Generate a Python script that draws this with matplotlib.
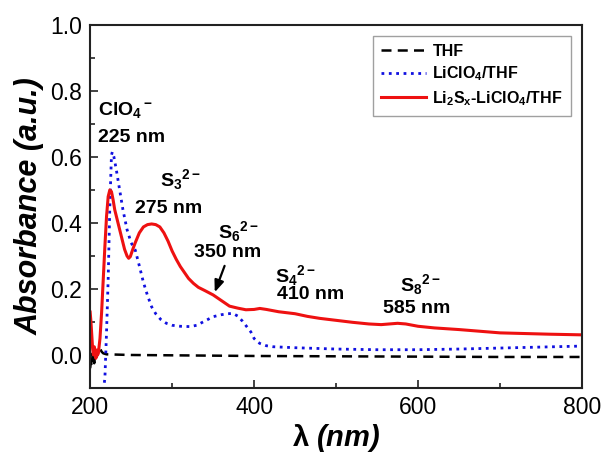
import matplotlib
matplotlib.use("Agg")
import matplotlib.pyplot as plt
from matplotlib.ticker import MultipleLocator

plt.rcParams['font.family'] = ['Liberation Sans', 'DejaVu Sans']
plt.rcParams['mathtext.fontset'] = 'custom'
plt.rcParams['mathtext.rm'] = 'Liberation Sans:bold'
plt.rcParams['mathtext.it'] = 'Liberation Sans:bold'
plt.rcParams['mathtext.bf'] = 'Liberation Sans:bold'
plt.rcParams['mathtext.default'] = 'rm'

# ---- data ----
thf_x = [200, 201, 202, 203, 204, 205, 206, 207, 208, 210, 212, 214, 216, 220, 250, 300, 400, 500, 600, 700, 800]
thf_y = [-0.04, -0.02, -0.035, 0.005, -0.01, -0.025, 0.0, 0.015, -0.005, 0.01, 0.02, 0.01, 0.005, 0.002,
         0.0, -0.001, -0.003, -0.004, -0.005, -0.006, -0.006]

li_x = [213, 215, 218, 220, 222, 224, 226, 227, 229, 232, 236, 240, 245, 250, 255, 260, 265, 270, 275, 280,
        286, 293, 300, 310, 322, 330, 340, 350, 360, 368, 374, 380, 386, 391, 396, 400, 404, 407, 415, 423,
        450, 500, 550, 600, 650, 700, 750, 800]
li_y = [-0.15, -0.13, -0.07, 0.07, 0.23, 0.45, 0.605, 0.615, 0.60, 0.56, 0.50, 0.44, 0.38, 0.34, 0.318,
        0.27, 0.22, 0.18, 0.146, 0.125, 0.108, 0.096, 0.09, 0.087, 0.086, 0.09, 0.103, 0.116, 0.122, 0.125,
        0.126, 0.118, 0.102, 0.086, 0.07, 0.05, 0.04, 0.035, 0.028, 0.025, 0.022, 0.018, 0.016, 0.016,
        0.018, 0.021, 0.024, 0.027]

lis_x = [200, 201, 202, 203, 204, 205, 206, 207, 208, 209, 210, 212, 214, 216, 218, 220, 222, 224, 226, 228,
         230, 233, 236, 239, 242, 245, 247, 249, 252, 255, 260, 265, 270, 275, 280, 285, 290, 295, 300, 305,
         310, 315, 320, 326, 332, 340, 350, 360, 370, 380, 390, 400, 407, 415, 430, 450, 465, 480, 500, 520,
         540, 555, 565, 575, 585, 600, 620, 650, 680, 700, 730, 760, 800]
lis_y = [0.13, 0.10, 0.06, 0.02, 0.0, 0.025, 0.01, -0.01, 0.015, 0.0, 0.005, 0.05, 0.13, 0.23, 0.33, 0.42,
         0.48, 0.50, 0.495, 0.47, 0.44, 0.41, 0.38, 0.35, 0.32, 0.30, 0.293, 0.298, 0.32, 0.34, 0.37, 0.388,
         0.395, 0.397, 0.395, 0.388, 0.37, 0.345, 0.315, 0.29, 0.268, 0.25, 0.232, 0.217, 0.205, 0.195,
         0.182, 0.165, 0.148, 0.142, 0.137, 0.138, 0.141, 0.138, 0.131, 0.125, 0.117, 0.111, 0.105, 0.099,
         0.094, 0.092, 0.094, 0.096, 0.094, 0.087, 0.082, 0.077, 0.071, 0.067, 0.065, 0.063, 0.061]

labels = ['THF', 'LiClO$_4$/THF', 'Li$_2$S$_x$-LiClO$_4$/THF']

fig = plt.figure(figsize=(6.05, 4.53), dpi=100)
ax = fig.add_axes([0.149, 0.1435, 0.813, 0.8015])

ax.plot(thf_x, thf_y, color='black', lw=1.8, linestyle=(0, (4, 2.5)), label=labels[0])
ax.plot(li_x, li_y, color='#1010e0', lw=2.0, linestyle=':', label=labels[1])
ax.plot(lis_x, lis_y, color='#ee1111', lw=2.2, linestyle='-', label=labels[2])

ax.set_xlim(200, 800)
ax.set_ylim(-0.1, 1.0)
ax.xaxis.set_major_locator(MultipleLocator(200))
ax.xaxis.set_minor_locator(MultipleLocator(100))
ax.yaxis.set_major_locator(MultipleLocator(0.2))
ax.yaxis.set_minor_locator(MultipleLocator(0.1))
ax.yaxis.set_major_formatter(matplotlib.ticker.FormatStrFormatter('%.1f'))
ax.tick_params(which='both', direction='in', top=False, right=False, colors='#222222',
               labelcolor='black', width=1.2)
ax.tick_params(which='major', length=6, labelsize=16.5, pad=6)
ax.tick_params(which='minor', length=3.5)
for s in ax.spines.values():
    s.set_linewidth(1.5)
    s.set_color('#222222')

ax.set_xlabel(r'$\lambda$ (nm)', fontsize=21, fontweight='bold', fontstyle='italic', labelpad=2)
ax.set_ylabel('Absorbance (a.u.)', fontsize=22, fontweight='bold', fontstyle='italic', labelpad=4)

tk = dict(fontsize=14, fontweight='bold', color='black')
ax.text(243, 0.742, 'ClO$_4{}^-$', ha='center', va='center', **tk)
ax.text(251, 0.658, '225 nm', ha='center', va='center', **tk)
ax.text(285, 0.53, 'S$_3{}^{2-}$', ha='left', va='center', **tk)
ax.text(296, 0.445, '275 nm', ha='center', va='center', **tk)
ax.text(356, 0.373, 'S$_6{}^{2-}$', ha='left', va='center', **tk)
ax.text(368, 0.309, '350 nm', ha='center', va='center', **tk)
ax.text(425, 0.242, 'S$_4{}^{2-}$', ha='left', va='center', **tk)
ax.text(469, 0.182, '410 nm', ha='center', va='center', **tk)
ax.text(578, 0.212, 'S$_8{}^{2-}$', ha='left', va='center', **tk)
ax.text(598, 0.142, '585 nm', ha='center', va='center', **tk)

ax.annotate('', xy=(352, 0.19), xytext=(364, 0.27),
            arrowprops=dict(arrowstyle='-|>,head_length=0.7,head_width=0.28', color='black', lw=1.6,
                            shrinkA=0, shrinkB=0))

leg = ax.legend(loc='upper right', fontsize=11.5, frameon=True, fancybox=False,
                edgecolor='#888888', handlelength=2.8, borderaxespad=0.7, labelspacing=0.35,
                handletextpad=0.4, borderpad=0.5)
leg.get_frame().set_linewidth(1.0)
for t in leg.get_texts():
    t.set_fontweight('bold')

fig.savefig('out.png', dpi=100)
